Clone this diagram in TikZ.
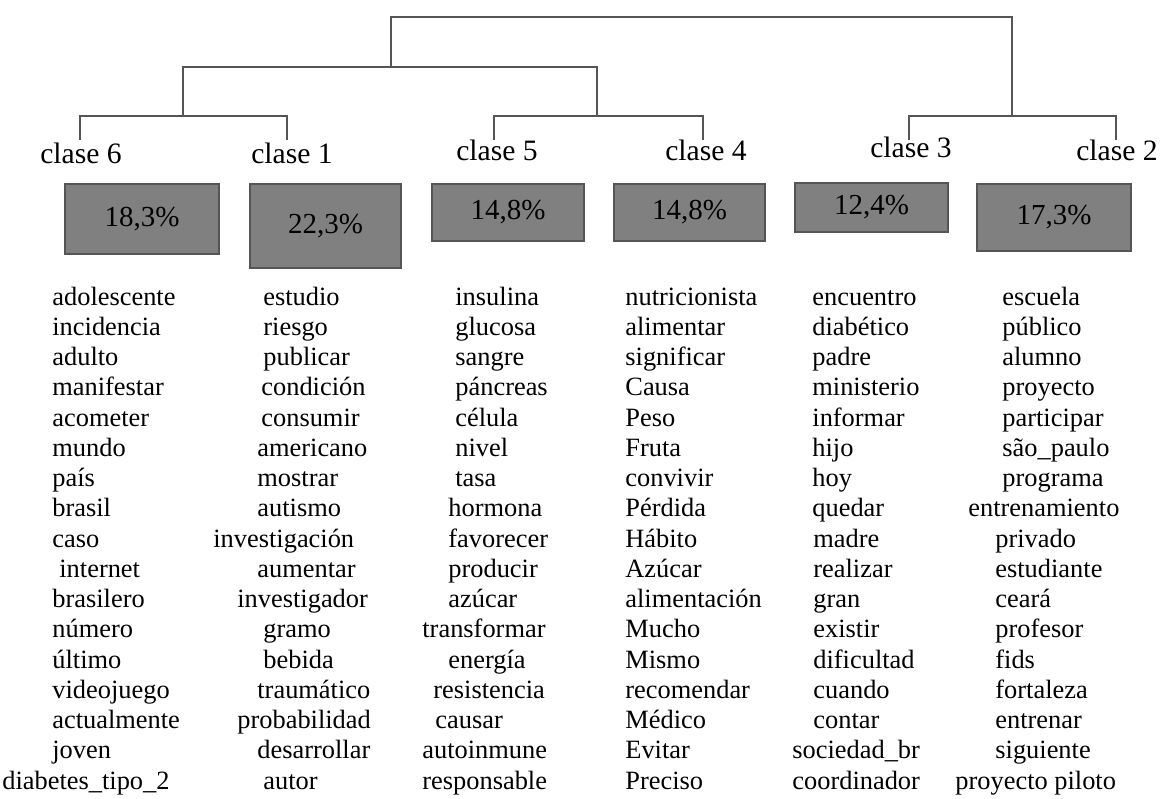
\documentclass[tikz,border=0pt]{standalone}
\usepackage{fontspec}
\setmainfont{Liberation Serif}
\definecolor{boxgray}{HTML}{808080}
\definecolor{linegray}{HTML}{555555}
\begin{document}
\begin{tikzpicture}[x=.5pt,y=-.5pt,
    tree/.style={draw=linegray,line width=1.1pt},
    clase/.style={anchor=base,inner sep=0pt,font=\fontsize{14.8}{16}\selectfont},
    pctbox/.style={draw=linegray,fill=boxgray,line width=1pt,inner sep=0pt,font=\fontsize{14.5}{16}\selectfont},
    word/.style={anchor=base west,inner sep=0pt,font=\fontsize{13.2}{15}\selectfont}]
\useasboundingbox (0,0) rectangle (1165,798);
\foreach \n/\x/\y in {6/81/163,1/292/163,5/497/160,4/706/160,3/911/157,2/1117/160}{
    \node[clase] (c\n) at (\x,\y) {clase \n};
}
\foreach \n/\x in {6/80,1/287,5/494,4/703,3/909,2/1116}{
    \coordinate (t\n) at (\x,140);
}
\coordinate (j61) at (183,116);
\coordinate (j54) at (597,116);
\coordinate (j32) at (1012,116);
\coordinate (j6154) at (391,67);
\coordinate (top) at (700,17);
\draw[tree] (t6) |- (j61) -| (t1);
\draw[tree] (t5) |- (j54) -| (t4);
\draw[tree] (t3) |- (j32) -| (t2);
\draw[tree] (j61) |- (j6154) -| (j54);
\draw[tree] (j6154) |- (top) -| (j32);
\foreach \n/\x/\y/\w/\h/\p in {6/142/219/77/35/{18,3\%},1/325.5/226/75.5/42/{22,3\%},5/508/212.5/76/28.5/{14,8\%},
    4/689.5/212.5/75.5/28.5/{14,8\%},3/871.5/207.5/76.5/24.5/{12,4\%},2/1054/217.5/77/33.5/{17,3\%}}{
    \node[pctbox,minimum width=\w pt,minimum height=\h pt] (b\n) at (\x,\y) {\p};
}
\foreach \w/\x [count=\i] in {adolescente/52,incidencia/52,adulto/52,manifestar/52,acometer/52,mundo/52,país/52,brasil/52,
    caso/52,internet/59,brasilero/52,número/52,último/52,videojuego/52,actualmente/52,joven/52,diabetes\_tipo\_2/2}{
    \node[word] (w6-\i) at (\x,{305+30.25*(\i-1)}) {\w};
}
\foreach \w/\x [count=\i] in {estudio/263,riesgo/263,publicar/263,condición/261,consumir/261,americano/257,mostrar/257,autismo/257,
    investigación/213,aumentar/257,investigador/237,gramo/263,bebida/263,traumático/257,probabilidad/237,desarrollar/257,autor/263}{
    \node[word] (w1-\i) at (\x,{305+30.25*(\i-1)}) {\w};
}
\foreach \w/\x [count=\i] in {insulina/455,glucosa/455,sangre/455,páncreas/455,célula/455,nivel/455,tasa/455,hormona/448,
    favorecer/448,producir/448,azúcar/448,transformar/422,energía/448,resistencia/433,causar/435,autoinmune/422,responsable/422}{
    \node[word] (w5-\i) at (\x,{305+30.25*(\i-1)}) {\w};
}
\foreach \w/\x [count=\i] in {nutricionista/625,alimentar/625,significar/625,Causa/625,Peso/625,Fruta/625,convivir/625,Pérdida/625,
    Hábito/625,Azúcar/625,alimentación/625,Mucho/625,Mismo/625,recomendar/625,Médico/625,Evitar/625,Preciso/625}{
    \node[word] (w4-\i) at (\x,{305+30.25*(\i-1)}) {\w};
}
\foreach \w/\x [count=\i] in {encuentro/812,diabético/812,padre/812,ministerio/812,informar/812,hijo/812,hoy/812,quedar/812,
    madre/813,realizar/813,gran/813,existir/813,dificultad/813,cuando/813,contar/813,sociedad\_br/792,coordinador/792}{
    \node[word] (w3-\i) at (\x,{305+30.25*(\i-1)}) {\w};
}
\foreach \w/\x [count=\i] in {escuela/1002,público/1002,alumno/1002,proyecto/1002,participar/1002,são\_paulo/1002,programa/1002,
    entrenamiento/968,privado/995,estudiante/995,ceará/995,profesor/995,fids/995,fortaleza/995,entrenar/995,siguiente/995,proyecto piloto/955}{
    \node[word] (w2-\i) at (\x,{305+30.25*(\i-1)}) {\w};
}
\end{tikzpicture}
\end{document}
